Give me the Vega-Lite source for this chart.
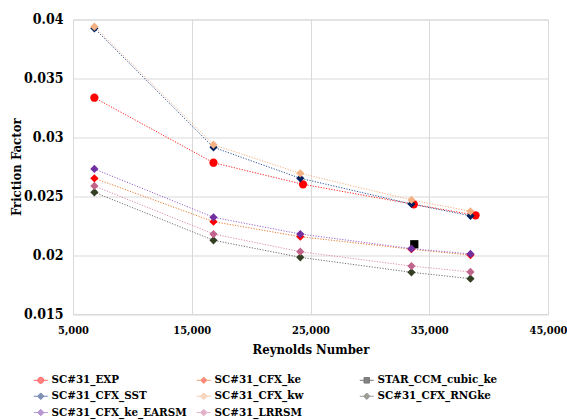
{
  "$schema": "https://vega.github.io/schema/vega-lite/v6.json",
  "width": 475,
  "height": 294.5,
  "autosize": {"type": "none"},
  "padding": {"left": 73, "top": 19.5, "right": 19, "bottom": 106},
  "background": "white",
  "config": {
    "view": {"stroke": "#d9d9d9"},
    "axis": {
      "labelFont": "DejaVu Serif Condensed", "labelFontWeight": "bold", "labelFontSize": 14, "labelColor": "black",
      "titleFont": "DejaVu Serif Condensed", "titleFontWeight": "bold", "titleFontSize": 13, "titleColor": "black",
      "ticks": false, "domainColor": "#d9d9d9", "gridColor": "#d9d9d9", "gridWidth": 1, "labelFlush": false
    },
    "axisX": {"labelFontSize": 11},
    "legend": {
      "orient": "none", "legendX": -38, "legendY": 354.7, "columns": 3, "gridAlign": "all",
      "columnPadding": 7, "rowPadding": 3.3, "padding": 0,
      "labelFont": "DejaVu Serif Condensed", "labelFontWeight": "bold", "labelFontSize": 11.5, "labelColor": "black",
      "labelOffset": 5, "symbolSize": 100, "symbolStrokeWidth": 1, "labelLimit": 300
    }
  },
  "data": {
    "values": [
      {"series": "SC#31_EXP", "Re": 6800, "f": 0.03336},
      {"series": "SC#31_EXP", "Re": 16830, "f": 0.02784},
      {"series": "SC#31_EXP", "Re": 24370, "f": 0.02601},
      {"series": "SC#31_EXP", "Re": 33700, "f": 0.02431},
      {"series": "SC#31_EXP", "Re": 38900, "f": 0.02338},
      {"series": "SC#31_CFX_ke", "Re": 6800, "f": 0.02652},
      {"series": "SC#31_CFX_ke", "Re": 16830, "f": 0.02284},
      {"series": "SC#31_CFX_ke", "Re": 24140, "f": 0.02156},
      {"series": "SC#31_CFX_ke", "Re": 33500, "f": 0.0205},
      {"series": "SC#31_CFX_ke", "Re": 38470, "f": 0.0200},
      {"series": "STAR_CCM_cubic_ke", "Re": 33740, "f": 0.02092},
      {"series": "SC#31_CFX_SST", "Re": 6800, "f": 0.03925},
      {"series": "SC#31_CFX_SST", "Re": 16830, "f": 0.02915},
      {"series": "SC#31_CFX_SST", "Re": 24140, "f": 0.02652},
      {"series": "SC#31_CFX_SST", "Re": 33500, "f": 0.02434},
      {"series": "SC#31_CFX_SST", "Re": 38470, "f": 0.02334},
      {"series": "SC#31_CFX_kw", "Re": 6800, "f": 0.03939},
      {"series": "SC#31_CFX_kw", "Re": 16830, "f": 0.02937},
      {"series": "SC#31_CFX_kw", "Re": 24140, "f": 0.02694},
      {"series": "SC#31_CFX_kw", "Re": 33500, "f": 0.02468},
      {"series": "SC#31_CFX_kw", "Re": 38470, "f": 0.02372},
      {"series": "SC#31_CFX_RNGke", "Re": 6800, "f": 0.02533},
      {"series": "SC#31_CFX_RNGke", "Re": 16830, "f": 0.02126},
      {"series": "SC#31_CFX_RNGke", "Re": 24140, "f": 0.01981},
      {"series": "SC#31_CFX_RNGke", "Re": 33500, "f": 0.01854},
      {"series": "SC#31_CFX_RNGke", "Re": 38470, "f": 0.018},
      {"series": "SC#31_CFX_ke_EARSM", "Re": 6800, "f": 0.02731},
      {"series": "SC#31_CFX_ke_EARSM", "Re": 16830, "f": 0.02321},
      {"series": "SC#31_CFX_ke_EARSM", "Re": 24140, "f": 0.02179},
      {"series": "SC#31_CFX_ke_EARSM", "Re": 33500, "f": 0.02055},
      {"series": "SC#31_CFX_ke_EARSM", "Re": 38470, "f": 0.0201},
      {"series": "SC#31_LRRSM", "Re": 6800, "f": 0.02587},
      {"series": "SC#31_LRRSM", "Re": 16830, "f": 0.02179},
      {"series": "SC#31_LRRSM", "Re": 24140, "f": 0.02029},
      {"series": "SC#31_LRRSM", "Re": 33500, "f": 0.01907},
      {"series": "SC#31_LRRSM", "Re": 38470, "f": 0.01857}
    ]
  },
  "encoding": {
    "x": {
      "field": "Re", "type": "quantitative", "title": "Reynolds Number",
      "scale": {"domain": [5000, 45000], "nice": false, "zero": false},
      "axis": {"values": [5000, 15000, 25000, 35000, 45000], "format": ",.0f", "labelFontSize": 11, "labelPadding": 10, "titlePadding": 8}
    },
    "y": {
      "field": "f", "type": "quantitative", "title": "Friction Factor",
      "scale": {"domain": [0.015, 0.04], "nice": false, "zero": false},
      "axis": {"values": [0.015, 0.02, 0.025, 0.03, 0.035, 0.04], "format": "~g", "labelPadding": 10, "titlePadding": 0}
    }
  },
  "layer": [
    {
      "mark": {"type": "line", "strokeWidth": 1, "strokeDash": [1.2, 1.5]},
      "encoding": {
        "stroke": {
          "field": "series", "type": "nominal", "legend": null,
          "scale": {
            "domain": ["SC#31_EXP", "SC#31_CFX_ke", "STAR_CCM_cubic_ke", "SC#31_CFX_SST", "SC#31_CFX_kw", "SC#31_CFX_RNGke", "SC#31_CFX_ke_EARSM", "SC#31_LRRSM"],
            "range": ["#ff2020", "#ed7d31", "#404040", "#2f5597", "#f4b183", "#707070", "#9966cc", "#e08cb4"]
          }
        }
      }
    },
    {
      "mark": {"type": "point", "filled": true, "opacity": 1, "size": 68},
      "encoding": {
        "fill": {
          "field": "series", "type": "nominal", "legend": null,
          "scale": {
            "domain": ["SC#31_EXP", "SC#31_CFX_ke", "STAR_CCM_cubic_ke", "SC#31_CFX_SST", "SC#31_CFX_kw", "SC#31_CFX_RNGke", "SC#31_CFX_ke_EARSM", "SC#31_LRRSM"],
            "range": ["#ff0000", "#ff0000", "#000000", "#002060", "#f4b183", "#333f22", "#7030a0", "#c0648c"]
          }
        },
        "shape": {
          "field": "series", "type": "nominal", "legend": null,
          "scale": {
            "domain": ["SC#31_EXP", "SC#31_CFX_ke", "STAR_CCM_cubic_ke", "SC#31_CFX_SST", "SC#31_CFX_kw", "SC#31_CFX_RNGke", "SC#31_CFX_ke_EARSM", "SC#31_LRRSM"],
            "range": ["circle", "diamond", "square", "diamond", "diamond", "diamond", "diamond", "diamond"]
          }
        }
      }
    },
    {
      "transform": [{"filter": "false"}],
      "mark": {"type": "point", "filled": true},
      "encoding": {
        "fill": {
          "field": "series", "type": "nominal", "legend": {"title": null},
          "scale": {
            "domain": ["SC#31_EXP", "SC#31_CFX_SST", "SC#31_CFX_ke_EARSM", "SC#31_CFX_ke", "SC#31_CFX_kw", "SC#31_LRRSM", "STAR_CCM_cubic_ke", "SC#31_CFX_RNGke"],
            "range": ["#ff0000", "#002060", "#7030a0", "#ff0000", "#f4b183", "#c0648c", "#000000", "#333f22"]
          }
        },
        "stroke": {
          "field": "series", "type": "nominal", "legend": {"title": null},
          "scale": {
            "domain": ["SC#31_EXP", "SC#31_CFX_SST", "SC#31_CFX_ke_EARSM", "SC#31_CFX_ke", "SC#31_CFX_kw", "SC#31_LRRSM", "STAR_CCM_cubic_ke", "SC#31_CFX_RNGke"],
            "range": ["#ff2020", "#2f5597", "#9966cc", "#ed7d31", "#f4b183", "#e08cb4", "#404040", "#707070"]
          }
        },
        "shape": {
          "field": "series", "type": "nominal", "legend": {"title": null},
          "scale": {
            "domain": ["SC#31_EXP", "SC#31_CFX_SST", "SC#31_CFX_ke_EARSM", "SC#31_CFX_ke", "SC#31_CFX_kw", "SC#31_LRRSM", "STAR_CCM_cubic_ke", "SC#31_CFX_RNGke"],
            "range": [
              "M-1.4,0L-0.6,0M0.6,0L1.4,0M0.6,0A0.6,0.6,0,1,1,-0.6,0A0.6,0.6,0,1,1,0.6,0Z",
              "M-1.4,0L-0.65,0M0.65,0L1.4,0M0,-0.65L0.65,0L0,0.65L-0.65,0Z",
              "M-1.4,0L-0.65,0M0.65,0L1.4,0M0,-0.65L0.65,0L0,0.65L-0.65,0Z",
              "M-1.4,0L-0.65,0M0.65,0L1.4,0M0,-0.65L0.65,0L0,0.65L-0.65,0Z",
              "M-1.4,0L-0.65,0M0.65,0L1.4,0M0,-0.65L0.65,0L0,0.65L-0.65,0Z",
              "M-1.4,0L-0.65,0M0.65,0L1.4,0M0,-0.65L0.65,0L0,0.65L-0.65,0Z",
              "M-1.4,0L-0.55,0M0.55,0L1.4,0M-0.55,-0.55L0.55,-0.55L0.55,0.55L-0.55,0.55Z",
              "M-1.4,0L-0.65,0M0.65,0L1.4,0M0,-0.65L0.65,0L0,0.65L-0.65,0Z"
            ]
          }
        }
      }
    }
  ],
  "resolve": {
    "scale": {"fill": "independent", "stroke": "independent", "shape": "independent"},
    "legend": {"fill": "independent", "stroke": "independent", "shape": "independent"}
  }
}
